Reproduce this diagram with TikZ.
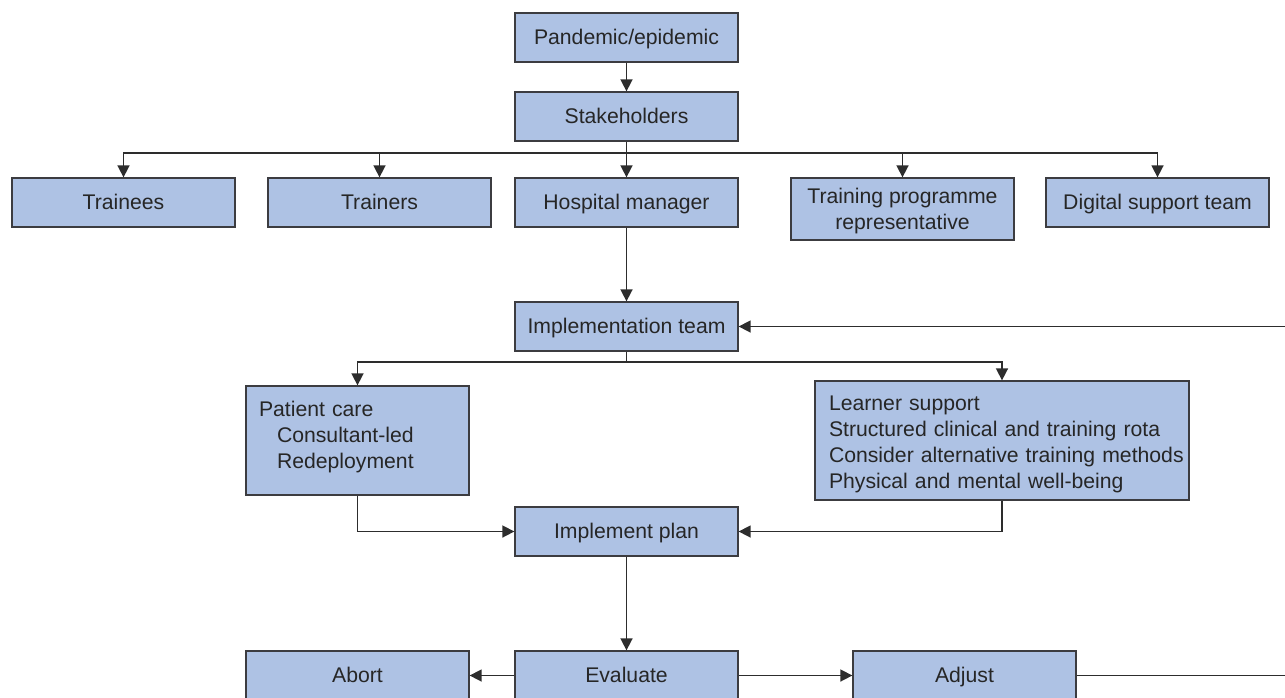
\documentclass[tikz,border=0pt]{standalone}
\usepackage{fontspec}
\setmainfont{Liberation Sans}
\usetikzlibrary{arrows.meta}
\definecolor{boxfill}{RGB}{174,194,228}
\definecolor{boxline}{RGB}{60,60,64}
\definecolor{conn}{RGB}{45,45,45}
\begin{document}
\begin{tikzpicture}[x=1pt,y=-1pt,
  box/.style={draw=boxline, line width=1.3pt, fill=boxfill, minimum width=223pt, minimum height=49pt, inner sep=0pt, text=black!85, font=\fontsize{21.2}{26}\selectfont},
  one/.style={box, text height=14pt, text depth=0pt},
  conline/.style={draw=conn, line width=1.6pt},
  arr/.style={conline, -{Triangle[length=12pt,width=12pt]}}]
\useasboundingbox (0,0) rectangle (1285,697);
\clip (0,0) rectangle (1285,697);
\node[one] (pand) at (626.5,37.5) {Pandemic/epidemic};
\node[one] (stake) at (626.5,116.5) {Stakeholders};
\node[one] (trainees) at (123.5,202.5) {Trainees};
\node[one] (trainers) at (379.5,202.5) {Trainers};
\node[one] (hosp) at (626.5,202.5) {Hospital manager};
\node[box, minimum height=62pt, align=center] (tpr) at (902.5,209) {\rule{0pt}{20pt}Training programme\\representative};
\node[one] (digital) at (1157.5,202.5) {Digital support team};
\node[one] (impl) at (626.5,326.5) {Implementation team};
\node[box, minimum height=109pt, text width=197pt, align=left] (pc) at (357.5,440.5) {Patient care\\\hspace*{18pt}Consultant-led\\\hspace*{18pt}Redeployment\rule[-11.5pt]{0pt}{11.5pt}};
\node[box, minimum width=374pt, minimum height=119pt, text width=346pt, align=left] (ls) at (1002,440.5) {\rule{0pt}{22pt}Learner support\\\mbox{Structured clinical and training rota}\\\mbox{Consider alternative training methods}\\\mbox{Physical and mental well-being}};
\node[one] (plan) at (626.5,531.5) {Implement plan};
\node[one] (eval) at (626.5,675.5) {Evaluate};
\node[one] (abort) at (357.5,675.5) {Abort};
\node[one] (adjust) at (964.5,675.5) {Adjust};
\coordinate (b1) at (626.5,153);
\coordinate (b2) at (626.5,362);
\coordinate (r1) at (1300,675.5);
\coordinate (r2) at (1300,326.5);
\draw[arr] (pand) -- (stake);
\draw[conline] (stake) -- (b1);
\draw[arr] (b1) -| (trainees);
\draw[arr] (b1) -| (trainers);
\draw[arr] (b1) -- (hosp);
\draw[arr] (b1) -| (tpr);
\draw[arr] (b1) -| (digital);
\draw[arr] (hosp) -- (impl);
\draw[conline] (impl) -- (b2);
\draw[arr] (b2) -| (pc);
\draw[arr] (b2) -| (ls);
\draw[arr] (pc.south) |- (plan.west);
\draw[arr] (ls.south) |- (plan.east);
\draw[arr] (plan) -- (eval);
\draw[arr] (eval) -- (abort);
\draw[arr] (eval) -- (adjust);
\draw[arr] (adjust.east) -- (r1) -- (r2) -- (impl.east);
\end{tikzpicture}
\end{document}
